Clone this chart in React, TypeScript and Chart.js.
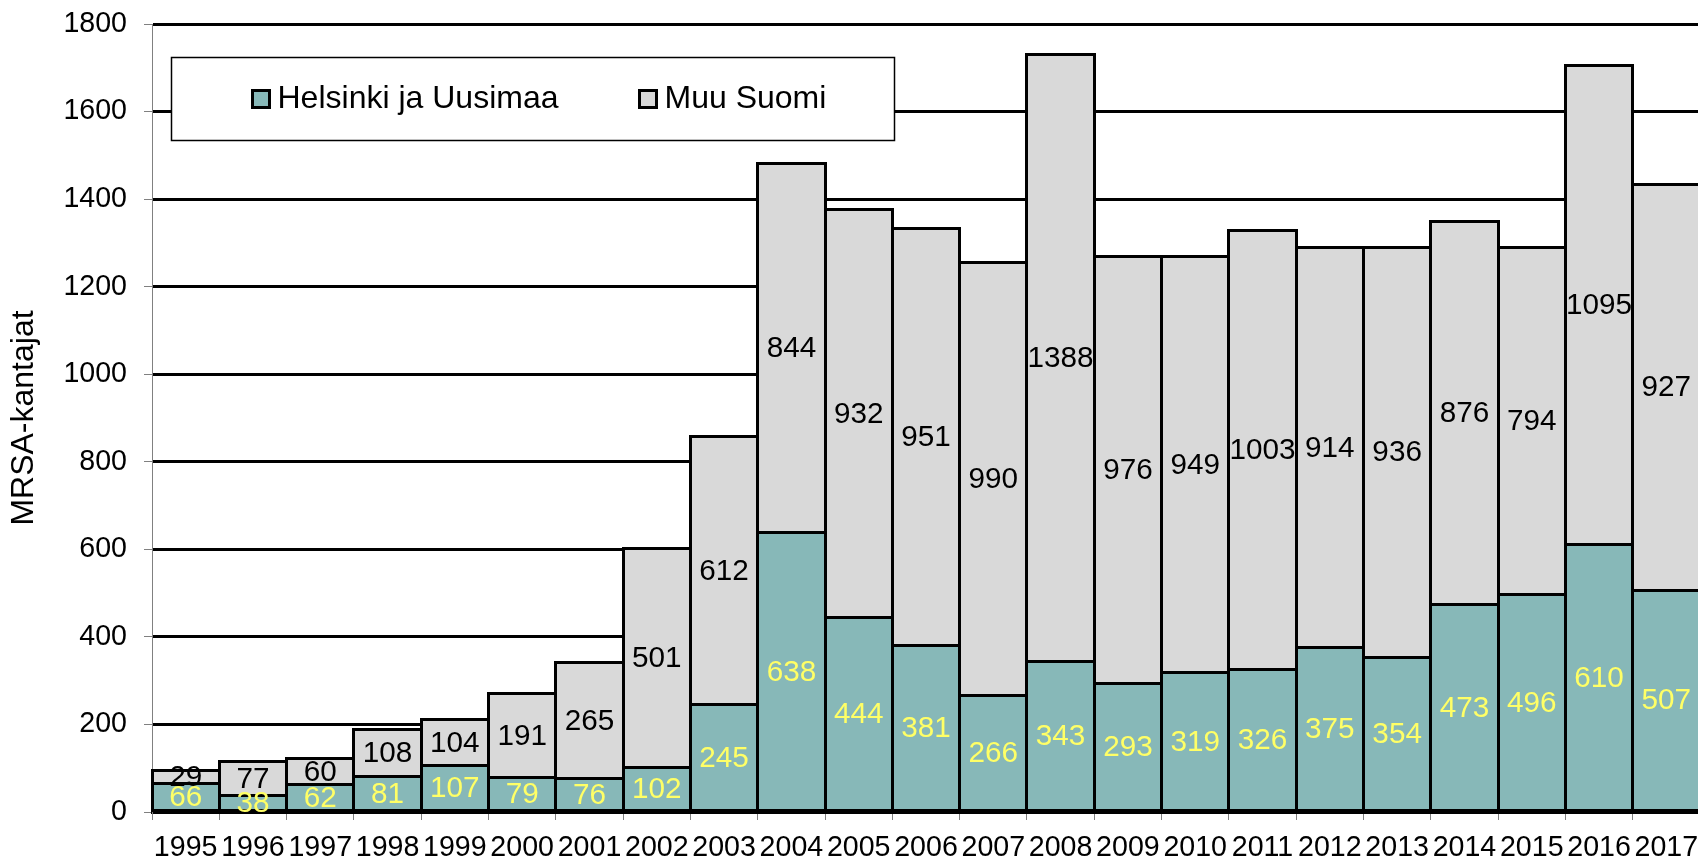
import React, { useEffect, useRef } from "react";
import { Chart, registerables } from "chart.js";

Chart.register(...registerables);

const years = ["1995","1996","1997","1998","1999","2000","2001","2002","2003","2004","2005","2006","2007","2008","2009","2010","2011","2012","2013","2014","2015","2016","2017"];
const helsinki = [66, 38, 62, 81, 107, 79, 76, 102, 245, 638, 444, 381, 266, 343, 293, 319, 326, 375, 354, 473, 496, 610, 507];
const muuSuomi = [29, 77, 60, 108, 104, 191, 265, 501, 612, 844, 932, 951, 990, 1388, 976, 949, 1003, 914, 936, 876, 794, 1095, 927];
const seriesNames = ["Helsinki ja Uusimaa", "Muu Suomi"];
const yTicks = [0, 200, 400, 600, 800, 1000, 1200, 1400, 1600, 1800];

const FONT = "'Liberation Sans', Arial, sans-serif";
const TEAL = "#87B8B8";
const GRAY = "#D9D9D9";
const LABEL_COLORS = ["#FFFF66", "#000000"];

const snap = (v: number) => Math.round(v - 0.5) + 0.5;

// Excel-style centred outlines and value labels
const barDecorPlugin = {
  id: "barDecor",
  afterDatasetsDraw(chart: any) {
    const ctx = chart.ctx;
    ctx.save();
    ctx.strokeStyle = "#000000";
    ctx.lineWidth = 3;
    ctx.lineJoin = "miter";
    chart.data.datasets.forEach((_ds: any, di: number) => {
      const meta = chart.getDatasetMeta(di);
      meta.data.forEach((el: any) => {
        const l = snap(el.x - el.width / 2);
        const r = snap(el.x + el.width / 2);
        const t = snap(Math.min(el.y, el.base));
        const b = snap(Math.max(el.y, el.base));
        ctx.strokeRect(l, t, r - l, b - t);
      });
    });
    ctx.font = `29.7px ${FONT}`;
    ctx.textAlign = "center";
    ctx.textBaseline = "middle";
    chart.data.datasets.forEach((ds: any, di: number) => {
      const meta = chart.getDatasetMeta(di);
      meta.data.forEach((el: any, i: number) => {
        const cy = (el.y + el.base) / 2;
        ctx.fillStyle = LABEL_COLORS[di];
        ctx.fillText(String(ds.data[i]), el.x, cy + 1);
      });
    });
    ctx.restore();
  },
};

const legendPlugin = {
  id: "boxLegend",
  afterDraw(chart: any) {
    const ctx = chart.ctx;
    const area = chart.chartArea;
    const bx = Math.round(area.left + 19);
    const by = Math.round(area.top + 33);
    const bw = 723;
    const bh = 83;
    ctx.save();
    ctx.fillStyle = "#ffffff";
    ctx.fillRect(bx, by, bw, bh);
    ctx.strokeStyle = "#000000";
    ctx.lineWidth = 1.5;
    ctx.strokeRect(bx + 0.5, by + 0.5, bw, bh);
    const colors = [TEAL, GRAY];
    const offsets = [81, 468];
    ctx.font = `32px ${FONT}`;
    ctx.textBaseline = "middle";
    ctx.textAlign = "left";
    seriesNames.forEach((name, i) => {
      const sx = bx + offsets[i] + 0.5;
      const sy = by + 33 + 0.5;
      ctx.fillStyle = colors[i];
      ctx.fillRect(sx, sy, 17, 17);
      ctx.lineWidth = 3;
      ctx.strokeStyle = "#000000";
      ctx.strokeRect(sx, sy, 17, 17);
      ctx.fillStyle = "#000000";
      ctx.fillText(name, sx + 25, sy + 9);
    });
    ctx.restore();
  },
};

export default function App() {
  const ref = useRef<HTMLCanvasElement | null>(null);
  useEffect(() => {
    document.body.style.margin = "0";
    const canvas = ref.current;
    if (!canvas) return;
    const chart = new Chart(canvas, {
      type: "bar",
      data: {
        labels: years,
        datasets: [
          {
            label: seriesNames[0],
            data: helsinki,
            backgroundColor: TEAL,
            borderWidth: 0,
            barPercentage: 1,
            categoryPercentage: 1,
          },
          {
            label: seriesNames[1],
            data: muuSuomi,
            backgroundColor: GRAY,
            borderWidth: 0,
            barPercentage: 1,
            categoryPercentage: 1,
          },
        ],
      },
      options: {
        responsive: false,
        animation: false,
        devicePixelRatio: 1,
        layout: { padding: { top: 24, left: 0, right: 0, bottom: 0 } },
        plugins: {
          legend: { display: false },
          tooltip: { enabled: false },
          title: { display: false },
        },
        scales: {
          x: {
            stacked: true,
            offset: true,
            grid: {
              display: true,
              drawOnChartArea: false,
              offset: true,
              color: "#808080",
              lineWidth: 1,
              tickLength: 8,
            },
            border: { display: true, color: "#000000", width: 3 },
            ticks: {
              color: "#000000",
              font: { family: FONT, size: 28.6 },
              padding: 11,
              maxRotation: 0,
              autoSkip: false,
            },
            afterFit: (scale: any) => {
              scale.height = 47;
              scale.paddingLeft = 0;
              scale.paddingRight = 0;
            },
          },
          y: {
            stacked: true,
            min: 0,
            max: 1800,
            afterBuildTicks: (scale: any) => {
              scale.ticks = yTicks.map((v) => ({ value: v }));
            },
            grid: {
              color: "#000000",
              lineWidth: 3,
              tickColor: "#808080",
              tickWidth: 1,
              tickLength: 8,
            },
            border: { display: true, color: "#808080", width: 1 },
            ticks: {
              color: "#000000",
              font: { family: FONT, size: 28.6 },
              padding: 17,
              callback: (v: any) => String(v),
            },
            title: {
              display: true,
              text: "MRSA-kantajat",
              color: "#000000",
              font: { family: FONT, size: 32 },
              padding: { top: 5, bottom: 0 },
            },
            afterFit: (scale: any) => {
              scale.width = 152;
              scale.paddingTop = 0;
              scale.paddingBottom = 0;
            },
          },
        },
      },
      plugins: [barDecorPlugin, legendPlugin],
    });
    return () => chart.destroy();
  }, []);

  return (
    <div style={{ position: "absolute", left: 0, top: 0, width: 1698, height: 859, overflow: "hidden", background: "#fff" }}>
      <canvas ref={ref} width={1700} height={859} style={{ display: "block", width: 1700, height: 859 }} />
    </div>
  );
}
